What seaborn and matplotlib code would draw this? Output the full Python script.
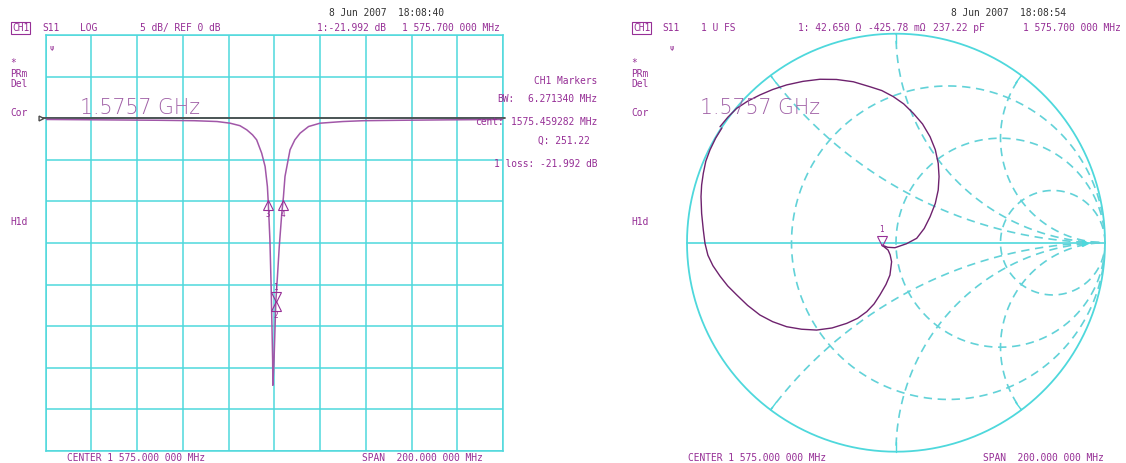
import numpy as np
import matplotlib
matplotlib.use("Agg")
import matplotlib.pyplot as plt
import matplotlib.transforms as mtransforms
from matplotlib.patches import Circle
import seaborn as sns

W, H = 1126, 463

# S11 log magnitude trace (left screen), MHz / dB
freq_mhz = [1475, 1500, 1525, 1540, 1550, 1555.7, 1560, 1563, 1565.5, 1567.3,
            1569.5, 1571, 1572, 1572.4, 1573.1, 1573.6, 1574.0, 1574.3, 1574.4,
            1574.9, 1575.7, 1576.4, 1577.2, 1578.3, 1579.0, 1579.7, 1581.9,
            1584, 1586.3, 1590, 1595, 1605, 1614, 1630, 1650, 1675]
s11_db = [-0.15, -0.2, -0.25, -0.3, -0.4, -0.6, -0.9, -1.4, -2.0, -2.6,
          -4.2, -5.8, -8.2, -10.2, -14.6, -19.8, -25.0, -29.1, -32.1,
          -29.1, -22.0, -19.0, -15.4, -11.4, -9.5, -7.0, -3.8,
          -2.6, -1.8, -1.0, -0.6, -0.4, -0.3, -0.25, -0.2, -0.15]
ref_db = 0

# markers on the log plot
mk_freq = [1575.7, 1575.7, 1572.4, 1579.0]
mk_db = [-21.99, -21.99, -9.9, -9.9]
mk_label = ["1", "2", "3", "4"]
mk_dir = ["v", "^", "^", "^"]

# S11 on the Smith chart (right screen), reflection coefficient
gamma_re = [-0.833, -0.863, -0.890, -0.910, -0.922, -0.930, -0.933, -0.930,
            -0.922, -0.914, -0.900, -0.876, -0.842, -0.805, -0.762,
            -0.710, -0.651, -0.590, -0.523, -0.452, -0.380, -0.306, -0.236,
            -0.184, -0.140, -0.105, -0.077, -0.048, -0.029, -0.021, -0.028,
            -0.038, -0.068, -0.040, -0.005, 0.050, 0.099, 0.135, 0.163,
            0.188, 0.202, 0.206, 0.202, 0.188, 0.163, 0.127, 0.083, 0.037,
            -0.013, -0.068, -0.124, -0.204, -0.285, -0.364, -0.445, -0.523,
            -0.590, -0.651, -0.710, -0.762, -0.805, -0.842]
gamma_im = [0.549, 0.500, 0.444, 0.390, 0.332, 0.276, 0.220, 0.140,
            0.061, -0.003, -0.060, -0.110, -0.160, -0.207, -0.250,
            -0.300, -0.346, -0.378, -0.402, -0.414, -0.418, -0.408, -0.386,
            -0.362, -0.330, -0.293, -0.250, -0.200, -0.155, -0.091, -0.058,
            -0.035, -0.011, -0.022, -0.024, -0.005, 0.021, 0.068, 0.124,
            0.188, 0.252, 0.316, 0.380, 0.445, 0.507, 0.568, 0.619, 0.664,
            0.699, 0.728, 0.746, 0.770, 0.781, 0.782, 0.772, 0.755,
            0.733, 0.707, 0.677, 0.643, 0.600, 0.555]
smith_mk_re = [-0.068]
smith_mk_im = [-0.011]

# Smith chart grid
r_circles = [1 / 3, 1, 3]
x_arcs = [0.5, 1, 2, -0.5, -1, -2]

CYAN = "#4ed8dc"
CYAN_D = "#62d2d8"
PURPLE = "#962f96"
TRACE = "#a157a8"
TRACE_S = "#6e226e"
BIG = "#a060a6"
MONO = "DejaVu Sans Mono"

sns.set_style("white")
plt.rcParams["font.family"] = ["DejaVu Sans"]

fig = plt.figure(figsize=(W / 100, H / 100), dpi=100)


def txt(x, y, s, size=6.9, color=PURPLE, **kw):
    kw.setdefault("ha", "left")
    return fig.text(x / W, 1 - y / H, s, fontsize=size, family=MONO,
                    color=color, va="center", **kw)


# ---------- left screen: log magnitude ----------
ax1 = fig.add_axes([45.5 / W, 1 - 451 / H, 457.5 / W, 416 / H])
ax1.set_xlim(1475, 1675)
ax1.set_ylim(-40, 10)
ax1.set_xticks(np.arange(1475, 1676, 20))
ax1.set_yticks(np.arange(-40, 11, 5))
ax1.grid(True, color=CYAN, lw=1.1)
ax1.tick_params(length=0, labelbottom=False, labelleft=False)
for sp in ax1.spines.values():
    sp.set_color(CYAN)
    sp.set_linewidth(1.1)

ax1.plot([1473, 1676], [ref_db, ref_db], color="#4a4a4a", lw=1.3,
         clip_on=False, zorder=3)
ax1.plot([1473], [ref_db], marker=">", ms=3.5, mfc="white", mec="#4a4a4a",
         clip_on=False, zorder=4)

sns.lineplot(x=freq_mhz, y=s11_db, ax=ax1, sort=False, estimator=None,
             color=TRACE, lw=1.1, zorder=5)

for f, d, lab, m in zip(mk_freq, mk_db, mk_label, mk_dir):
    dy = 3.2 if m == "v" else -3.2
    tr = mtransforms.offset_copy(ax1.transData, fig=fig, x=0, y=dy, units="points")
    ax1.plot([f], [d], marker=m, ms=6.5, mfc="none", mec=PURPLE, mew=0.8,
             transform=tr, zorder=6)
    ly = 10 if m == "v" else -10
    trl = mtransforms.offset_copy(ax1.transData, fig=fig, x=0, y=ly, units="points")
    ax1.text(f, d, lab, transform=trl, fontsize=5.5, family=MONO,
             color=PURPLE, ha="center", va="center", zorder=6)

# ---------- right screen: Smith chart ----------
R = 209
cx, cy = 896, 242.7
pad = 1.02
ax2 = fig.add_axes([(cx - R * pad) / W, 1 - (cy + R * pad) / H,
                    2 * R * pad / W, 2 * R * pad / H])
ax2.set_xlim(-pad, pad)
ax2.set_ylim(-pad, pad)
ax2.axis("off")

th = np.linspace(0, 2 * np.pi, 721)
ax2.plot(np.cos(th), np.sin(th), color=CYAN, lw=1.3)
ax2.plot([-1, 1], [0, 0], color=CYAN, lw=1.2)
clip = Circle((0, 0), 1, transform=ax2.transData)
dash = (0, (5, 3.4))
for r in r_circles:
    c, rad = r / (r + 1), 1 / (r + 1)
    ln, = ax2.plot(c + rad * np.cos(th), rad * np.sin(th), color=CYAN_D,
                   lw=1.2, ls=dash)
    ln.set_clip_path(clip)
for xv in x_arcs:
    rad = 1 / abs(xv)
    ln, = ax2.plot(1 + rad * np.cos(th), 1 / xv + rad * np.sin(th),
                   color=CYAN_D, lw=1.2, ls=dash)
    ln.set_clip_path(clip)
    p = np.array([(xv ** 2 - 1) / (xv ** 2 + 1), 2 * xv / (xv ** 2 + 1)])
    ax2.plot([0.955 * p[0], p[0]], [0.955 * p[1], p[1]], color=CYAN, lw=1.0)
ax2.plot([0.905], [0], marker=">", ms=5, color=CYAN)

sns.lineplot(x=gamma_re, y=gamma_im, ax=ax2, sort=False, estimator=None,
             color=TRACE_S, lw=1.0, zorder=5)
trm = mtransforms.offset_copy(ax2.transData, fig=fig, x=0, y=3.2, units="points")
ax2.plot(smith_mk_re, smith_mk_im, marker="v", ms=6.5, mfc="none",
         mec=PURPLE, mew=0.8, transform=trm, zorder=6)
trl = mtransforms.offset_copy(ax2.transData, fig=fig, x=0, y=11, units="points")
ax2.text(smith_mk_re[0], smith_mk_im[0], "1", transform=trl, fontsize=5.5,
         family=MONO, color=PURPLE, ha="center", va="center")

# ---------- annotation text ----------
for x0, date in [(329, "8 Jun 2007  18:08:40"), (951, "8 Jun 2007  18:08:54")]:
    txt(x0, 13, date, color="#333333")

box = dict(boxstyle="square,pad=0.12", fc="none", ec=PURPLE, lw=0.8)
txt(12, 28, "CH1", bbox=box)
txt(42, 28, "S11")
txt(80, 28, "LOG")
txt(140, 28, "5 dB/ REF 0 dB")
txt(317, 28, "1:-21.992 dB")
txt(402, 28, "1 575.700 000 MHz")

txt(633, 28, "CH1", bbox=box)
txt(662, 28, "S11")
txt(701, 28, "1 U FS")
txt(798, 28, "1: 42.650 \u03a9")
txt(868, 28, "-425.78 m\u03a9")
txt(933, 28, "237.22 pF")
txt(1023, 28, "1 575.700 000 MHz")

for x0 in (10, 631):
    txt(x0, 63, "*")
    txt(x0, 74, "PRm")
    txt(x0, 84, "Del")
    txt(x0, 113, "Cor")
    txt(x0, 222, "H1d")
txt(50, 48, "\u03c8", size=5)
txt(670, 48, "\u03c8", size=5)

fig.text(80 / W, 1 - 108 / H, "1.5757 GHz", fontsize=14.8, color=BIG,
         va="center", ha="left", fontweight="light")
fig.text(700 / W, 1 - 108 / H, "1.5757 GHz", fontsize=14.8, color=BIG,
         va="center", ha="left", fontweight="light")

txt(597, 81, "CH1 Markers", ha="right")
txt(497, 99, "BW:")
txt(597, 99, "6.271340 MHz", ha="right")
txt(475, 122, "cent:")
txt(597, 122, "1575.459282 MHz", ha="right")
txt(590, 141, "Q: 251.22", ha="right")
txt(597, 164, "1 loss: -21.992 dB", ha="right")

txt(67, 458, "CENTER 1 575.000 000 MHz")
txt(362, 458, "SPAN  200.000 000 MHz")
txt(688, 458, "CENTER 1 575.000 000 MHz")
txt(983, 458, "SPAN  200.000 000 MHz")

fig.savefig("out.png", dpi=100)
